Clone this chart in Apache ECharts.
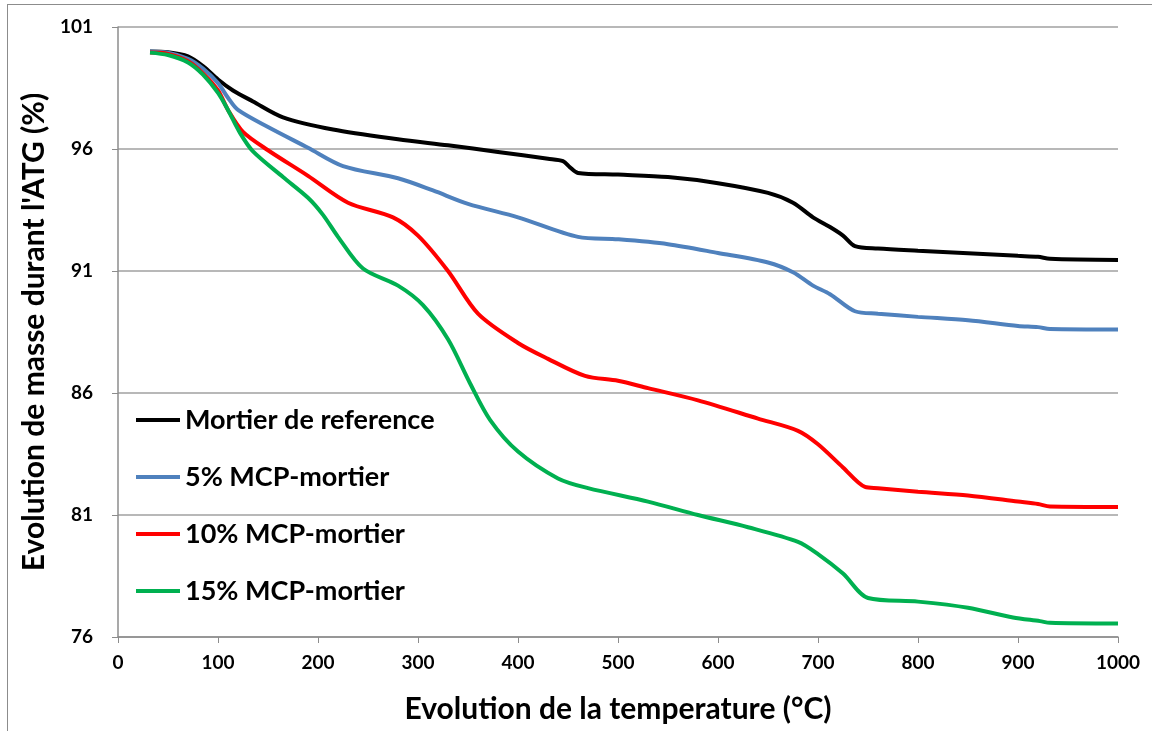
<!DOCTYPE html>
<html lang="fr">
<head>
  <meta charset="UTF-8">
  <title>Evolution de masse durant l'ATG</title>
  <script src="https://cdn.jsdelivr.net/npm/echarts@6/dist/echarts.min.js"></script>
  <style>
    html, body { margin: 0; padding: 0; background: #fff; overflow: hidden; }
    #frame { position: absolute; left: 7px; top: 4px; width: 1170px; height: 760px; border: 1px solid #8c8c8c; }
    #main { position: absolute; left: 0; top: 0; width: 1152px; height: 731px; }
  </style>
</head>
<body>
  <div id="frame"></div>
  <div id="main"></div>
  <script>
    // temperatures (°C) and masses (%)
    var refT = [32, 50, 70, 85, 100, 115, 135, 165, 215, 280, 330, 380, 430, 445, 452, 460, 500, 550, 600, 650, 675, 695, 712, 725, 737, 760, 800, 850, 900, 920, 932, 1000];
    var refV = [100.0, 99.97, 99.8, 99.4, 98.85, 98.4, 97.95, 97.3, 96.8, 96.4, 96.15, 95.88, 95.6, 95.5, 95.25, 95.02, 94.95, 94.85, 94.6, 94.2, 93.8, 93.2, 92.8, 92.45, 92.02, 91.92, 91.83, 91.73, 91.62, 91.58, 91.5, 91.45];

    var mcp5T = [32, 50, 70, 85, 100, 110, 120, 150, 190, 225, 280, 315, 350, 400, 460, 500, 550, 600, 650, 675, 695, 712, 737, 760, 800, 850, 900, 920, 932, 1000];
    var mcp5V = [100.0, 99.95, 99.7, 99.3, 98.7, 98.1, 97.6, 96.9, 96.05, 95.3, 94.8, 94.3, 93.75, 93.2, 92.4, 92.3, 92.1, 91.74, 91.35, 90.95, 90.4, 90.05, 89.35, 89.25, 89.12, 88.98, 88.75, 88.7, 88.62, 88.6];

    var mcp10T = [32, 50, 70, 85, 100, 110, 125, 150, 190, 230, 275, 300, 330, 360, 400, 430, 467, 500, 530, 580, 640, 680, 700, 725, 747, 760, 800, 850, 900, 920, 932, 1000];
    var mcp10V = [99.95, 99.9, 99.6, 99.1, 98.4, 97.6, 96.7, 95.95, 94.9, 93.8, 93.2, 92.45, 91.0, 89.25, 88.05, 87.4, 86.7, 86.5, 86.2, 85.7, 84.95, 84.45, 83.9, 82.95, 82.15, 82.1, 81.95, 81.8, 81.55, 81.45, 81.35, 81.33];

    var mcp15T = [32, 50, 70, 85, 100, 110, 122, 135, 165, 190, 205, 220, 245, 280, 305, 330, 352, 372, 400, 440, 470, 530, 580, 630, 680, 700, 725, 750, 800, 850, 895, 922, 932, 1000];
    var mcp15V = [99.95, 99.85, 99.55, 99.05, 98.3, 97.6, 96.66, 95.9, 94.85, 94.0, 93.3, 92.4, 91.1, 90.4, 89.6, 88.2, 86.4, 84.9, 83.6, 82.5, 82.1, 81.55, 81.0, 80.5, 79.9, 79.4, 78.6, 77.6, 77.45, 77.2, 76.8, 76.65, 76.58, 76.55];

    var seriesNames = ['Mortier de reference', '5% MCP-mortier', '10% MCP-mortier', '15% MCP-mortier'];
    var seriesColors = ['#000000', '#4f81bd', '#ff0000', '#00b050'];
    var seriesT = [refT, mcp5T, mcp10T, mcp15T];
    var seriesV = [refV, mcp5V, mcp10V, mcp15V];

    var fontFam = 'Lato, "Open Sans", sans-serif';

    function pairs(ts, vs) {
      return ts.map(function (t, i) { return [t, vs[i]]; });
    }

    var myChart = echarts.init(document.getElementById('main'));

    var series = seriesNames.map(function (name, i) {
      return {
        name: name,
        type: 'line',
        data: pairs(seriesT[i], seriesV[i]),
        smooth: 0.3,
        showSymbol: false,
        lineStyle: { color: seriesColors[i], width: 4 },
        itemStyle: { color: seriesColors[i] }
      };
    });

    var option = {
      animation: false,
      backgroundColor: 'transparent',
      grid: { left: 118, right: 34, top: 27, bottom: 94 },
      legend: {
        orient: 'vertical',
        left: 131,
        top: 401,
        icon: 'rect',
        itemWidth: 44,
        itemHeight: 4,
        itemGap: 29,
        data: seriesNames,
        textStyle: { fontFamily: fontFam, fontWeight: 'bold', fontSize: 27, color: '#000', lineHeight: 28 }
      },
      xAxis: {
        type: 'value',
        min: 0,
        max: 1000,
        interval: 100,
        name: 'Evolution de la temperature (°C)',
        nameLocation: 'middle',
        nameGap: 57,
        nameTextStyle: { fontFamily: fontFam, fontWeight: 'bold', fontSize: 30, color: '#000' },
        axisLine: { lineStyle: { color: '#8c8c8c', width: 1.5 } },
        axisTick: { show: true, length: 6, lineStyle: { color: '#8c8c8c' } },
        axisLabel: {
          margin: 16, fontFamily: fontFam, fontWeight: 'bold', fontSize: 19, color: '#000',
          formatter: function (v) { return String(v); }
        },
        splitLine: { show: false }
      },
      yAxis: {
        type: 'value',
        min: 76,
        max: 101,
        interval: 5,
        name: "Evolution de masse durant l'ATG (%)",
        nameLocation: 'middle',
        nameGap: 64,
        nameTextStyle: { fontFamily: fontFam, fontWeight: 'bold', fontSize: 30, color: '#000' },
        axisLine: { show: true, lineStyle: { color: '#8c8c8c', width: 1.5 } },
        axisTick: { show: true, length: 6, lineStyle: { color: '#8c8c8c' } },
        axisLabel: { margin: 25, fontFamily: fontFam, fontWeight: 'bold', fontSize: 19, color: '#000' },
        splitLine: { show: true, lineStyle: { color: '#a0a0a0', width: 1.5 } }
      },
      series: series
    };

    myChart.setOption(option);
  </script>
</body>
</html>
